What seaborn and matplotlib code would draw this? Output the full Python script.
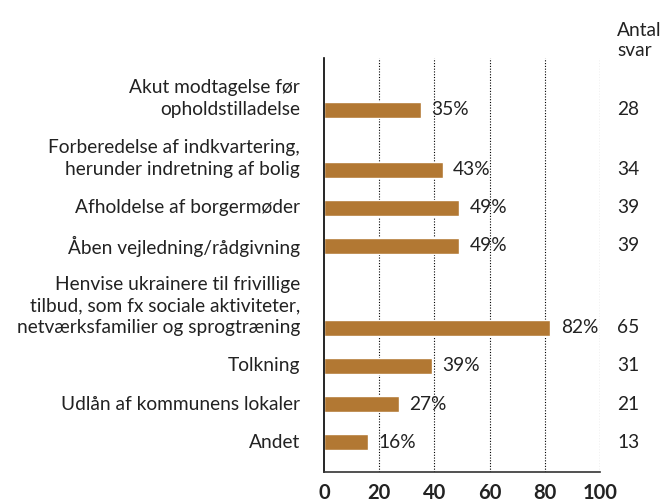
import matplotlib
matplotlib.use("Agg")
import matplotlib.pyplot as plt
import matplotlib.transforms as mtransforms
import seaborn as sns
import pandas as pd
import numpy as np

# data
labels = [
    "Akut modtagelse før\nopholdstilladelse",
    "Forberedelse af indkvartering,\nherunder indretning af bolig",
    "Afholdelse af borgermøder",
    "Åben vejledning/rådgivning",
    "Henvise ukrainere til frivillige\ntilbud, som fx sociale aktiviteter,\nnetværksfamilier og sprogtræning",
    "Tolkning",
    "Udlån af kommunens lokaler",
    "Andet",
]
percent = [35, 43, 49, 49, 82, 39, 27, 16]
answers = [28, 34, 39, 39, 65, 31, 21, 13]
ticks = [0, 20, 40, 60, 80, 100]

bar_color = "#B27833"
text_color = "#222222"
font = ["Lato", "DejaVu Sans"]
fs = 13.8

# vertical position: each row takes its number of label lines plus a gap
gap = 0.73
n_lines = [lab.count("\n") + 1 for lab in labels]
pos = np.cumsum([n + gap for n in n_lines])

df = pd.DataFrame({"label": labels, "percent": percent, "pos": pos})

sns.set_style("white")
plt.rcParams["font.family"] = font

fig = plt.figure(figsize=(6.64, 5.03), dpi=100)
ax = fig.add_axes([324 / 664, 1 - 472 / 503, 276 / 664, 414 / 503])

sns.barplot(data=df, x="percent", y="pos", orient="y", native_scale=True,
            color=bar_color, saturation=1, width=0.73 / 1.73, ax=ax)

ax.set_xlim(0, 100)
ax.set_ylim(pos[-1] + 30 / 22, pos[0] - 52 / 22)

# dotted gridlines
for t in ticks[1:]:
    ax.axvline(t, color="black", linestyle=(0, (1, 1.5)), linewidth=0.8, zorder=0)

ax.set_xticks(ticks)
ax.set_xticklabels([str(t) for t in ticks], fontsize=14.5, fontweight="bold",
                   color=text_color)
ax.tick_params(axis="x", length=0, pad=8)
ax.set_yticks([])
ax.set_xlabel("")
ax.set_ylabel("")

for s in ["top", "right"]:
    ax.spines[s].set_visible(False)
ax.spines["left"].set_color("black")
ax.spines["left"].set_linewidth(1.2)
ax.spines["bottom"].set_color("#333333")
ax.spines["bottom"].set_linewidth(1.2)

trans = mtransforms.blended_transform_factory(ax.transAxes, ax.transData)
for lab, p, val, cnt in zip(labels, pos, percent, answers):
    lines = lab.split("\n")
    for k, line in enumerate(reversed(lines)):
        ax.text(-24 / 276, p - k, line, transform=trans, ha="right", va="center",
                fontsize=fs, color=text_color)
    ax.annotate(f"{val}%", xy=(val, p), xytext=(7.5, 0), textcoords="offset points",
                ha="left", va="center", fontsize=fs, color=text_color)
    ax.text(1.062, p, str(cnt), transform=trans, ha="left", va="center",
            fontsize=fs, color=text_color)

fig.text(617 / 664, 1 - 30 / 503, "Antal", ha="left", va="center",
         fontsize=fs, color=text_color)
fig.text(617 / 664, 1 - 51 / 503, "svar", ha="left", va="center",
         fontsize=fs, color=text_color)

fig.savefig("out.png", dpi=100)
